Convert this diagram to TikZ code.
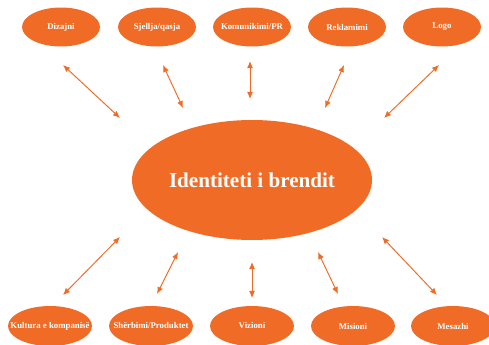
\documentclass[tikz,border=0pt]{standalone}
\usepackage{fontspec}
\setmainfont{Liberation Serif}
\usetikzlibrary{shapes.geometric,arrows.meta}
\definecolor{brand}{HTML}{F06C26}

\begin{document}
\begin{tikzpicture}[
  x=0.02cm,y=-0.02cm,
  txt/.style={inner sep=0pt,font=\fontsize{5}{6}\selectfont\bfseries\color{white}},
  bubble/.style={ellipse,draw=none,fill=brand,inner sep=0pt,minimum width=1.56cm,minimum height=0.78cm,label={[txt]center:#1}},
  bubblelow/.style={bubble=#1,minimum width=1.68cm,minimum height=0.8cm},
  core/.style={ellipse,draw=none,fill=brand,inner sep=0pt,minimum width=4.8cm,minimum height=2.4cm,font=\fontsize{12}{14}\selectfont\bfseries\color{white}},
  lnk/.style={draw=brand,line width=0.55pt,{Latex[length=4pt,width=3.4pt]}-{Latex[length=4pt,width=3.4pt]}},
]
\useasboundingbox (0,0) rectangle (489,344);

% centre
\node[core] (id) at (252,180) {Identiteti i brendit};

% top row
\node[bubble=Dizajni] (diz) at (61,27) {};
\node[bubble=Sjellja/qasja] (sje) at (157,27) {};
\node[bubble=Komunikimi/PR] (kom) at (252,27) {};
\node[bubble=Reklamimi] (rek) at (347,27) {};
\node[bubble=Logo] (logo) at (442,27) {};

% bottom row
\node[bubblelow=Kultura e kompanisë] (kul) at (50,326) {};
\node[bubblelow=Shërbimi/Produktet] (she) at (151,326) {};
\node[bubblelow=Vizioni] (viz) at (252,326) {};
\node[bubblelow=Misioni] (mis) at (353,326) {};
\node[bubblelow=Mesazhi] (mes) at (453,326) {};

% arrow ends
\coordinate (diz-a) at (63,65);   \coordinate (diz-b) at (120,118);
\coordinate (sje-a) at (163,65);  \coordinate (sje-b) at (183,108);
\coordinate (kom-a) at (250,61);  \coordinate (kom-b) at (250,99);
\coordinate (rek-a) at (344,65);  \coordinate (rek-b) at (325,108);
\coordinate (logo-a) at (439,65); \coordinate (logo-b) at (384,118);
\coordinate (kul-a) at (63,295);  \coordinate (kul-b) at (120,237);
\coordinate (she-a) at (157,294); \coordinate (she-b) at (178,252);
\coordinate (viz-a) at (252,298); \coordinate (viz-b) at (252,262);
\coordinate (mis-a) at (338,294); \coordinate (mis-b) at (318,252);
\coordinate (mes-a) at (437,295); \coordinate (mes-b) at (382,237);

\draw[lnk] (diz-a) -- (diz-b);
\draw[lnk] (sje-a) -- (sje-b);
\draw[lnk] (kom-a) -- (kom-b);
\draw[lnk] (rek-a) -- (rek-b);
\draw[lnk] (logo-a) -- (logo-b);
\draw[lnk] (kul-a) -- (kul-b);
\draw[lnk] (she-a) -- (she-b);
\draw[lnk] (viz-a) -- (viz-b);
\draw[lnk] (mis-a) -- (mis-b);
\draw[lnk] (mes-a) -- (mes-b);
\end{tikzpicture}
\end{document}
